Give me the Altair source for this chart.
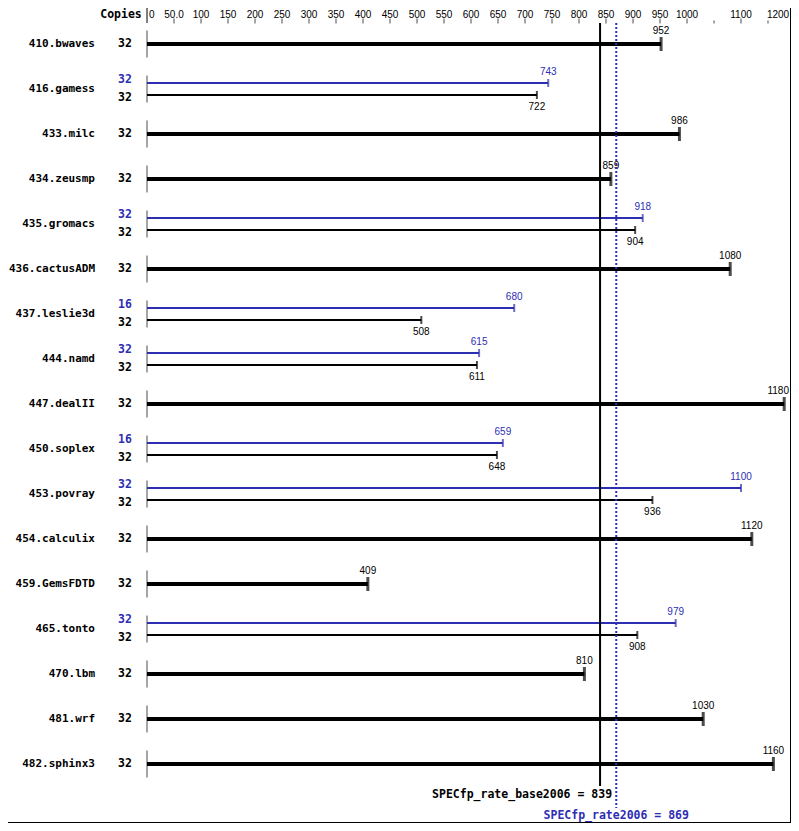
import altair as alt
import pandas as pd

names = ["410.bwaves", "416.gamess", "433.milc", "434.zeusmp", "435.gromacs",
         "436.cactusADM", "437.leslie3d", "444.namd", "447.dealII", "450.soplex",
         "453.povray", "454.calculix", "459.GemsFDTD", "465.tonto", "470.lbm",
         "481.wrf", "482.sphinx3"]
base_values = [952, 722, 986, 859, 904, 1080, 508, 611, 1180, 648, 936, 1120, 409, 908, 810, 1030, 1160]
peak_values = [None, 743, None, None, 918, None, 680, 615, None, 659, 1100, None, None, 979, None, None, None]
base_copies = [32] * 17
peak_copies = [None, 32, None, None, 32, None, 16, 32, None, 16, 32, None, None, 32, None, None, None]
axis_values = [0, 50, 100, 150, 200, 250, 300, 350, 400, 450, 500, 550, 600, 650, 700,
               750, 800, 850, 900, 950, 1000, 1100, 1200]
axis_labels = ["0", "50.0", "100", "150", "200", "250", "300", "350", "400", "450", "500",
               "550", "600", "650", "700", "750", "800", "850", "900", "950", "1000", "1100", "1200"]
minor_ticks = [1050, 1150]
base_score = 839
peak_score = 869

BLUE = "#2e2eb3"
MONO = "DejaVu Sans Mono"
SANS = "Liberation Sans"
SUB = 6 / 45.0
TXT = 9 / 45.0

W, H = 783, 815       # plot = page minus the 8px margin


def P(v):
    """page pixel -> plot pixel"""
    return v - 8


bars, lefts = [], []
for i, n in enumerate(names):
    lefts.append({"pos": i, "text": n, "kind": "name"})
    if peak_values[i] is None:
        bars.append({"pos": i, "value": base_values[i], "kind": "single", "label": str(base_values[i])})
        lefts.append({"pos": i, "text": str(base_copies[i]), "kind": "base"})
    else:
        bars.append({"pos": i - SUB, "value": peak_values[i], "kind": "peak", "label": str(peak_values[i])})
        bars.append({"pos": i + SUB, "value": base_values[i], "kind": "base", "label": str(base_values[i])})
        lefts.append({"pos": i - TXT, "text": str(peak_copies[i]), "kind": "peak"})
        lefts.append({"pos": i + TXT, "text": str(base_copies[i]), "kind": "base"})
bars = pd.DataFrame(bars)
bars["zero"] = 0
lefts = pd.DataFrame(lefts)
rows = pd.DataFrame({"pos": list(range(len(names))), "zero": 0})
axis_df = pd.DataFrame({"v": axis_values, "t": axis_labels})
minor_df = pd.DataFrame({"v": minor_ticks})

# x: value 0 at page 147, 0.54 px per unit; y: row 0 at page 44, 45 px per row
xs = alt.Scale(domain=[(8 - 147) / 0.54, (8 + W - 147) / 0.54], nice=False, zero=False)
ys = alt.Scale(domain=[(8 - 44) / 45.0, (8 + H - 44) / 45.0], nice=False, zero=False, reverse=True)


def X(f):
    return alt.X(f, type="quantitative", scale=xs, axis=None)


def Y(f):
    return alt.Y(f, type="quantitative", scale=ys, axis=None)


col = alt.Color("kind:N", scale=alt.Scale(domain=["single", "peak", "base"],
                                          range=["black", BLUE, "black"]), legend=None)

base_chart = alt.Chart(bars)
single = base_chart.transform_filter("datum.kind == 'single'")
pair = base_chart.transform_filter("datum.kind != 'single'")
one = alt.Chart(rows).transform_filter("datum.pos == 0")

AX_LABEL_Y = P(14.5)
AX_TOP = P(23)

layers = [
    # row axis segments
    alt.Chart(rows).mark_tick(orient="vertical", size=27, thickness=1, color="black").encode(x=X("zero"), y=Y("pos")),
    single.mark_rule(strokeWidth=4, color="black").encode(x=X("zero"), x2="value", y=Y("pos")),
    pair.mark_rule(strokeWidth=2).encode(x=X("zero"), x2="value", y=Y("pos"), color=col),
    single.mark_tick(orient="vertical", size=14, thickness=3, color="black").encode(x=X("value"), y=Y("pos")),
    pair.mark_tick(orient="vertical", size=8, thickness=2).encode(x=X("value"), y=Y("pos"), color=col),
    single.transform_filter("datum.value < 1170").mark_text(font=SANS, fontSize=10, dy=-13, color="black")
    .encode(x=X("value"), y=Y("pos"), text="label"),
    single.transform_filter("datum.value >= 1170").mark_text(font=SANS, fontSize=10, dy=-13, dx=-6, color="black")
    .encode(x=X("value"), y=Y("pos"), text="label"),
    base_chart.transform_filter("datum.kind == 'peak'").mark_text(font=SANS, fontSize=10, dy=-11, color=BLUE)
    .encode(x=X("value"), y=Y("pos"), text="label"),
    base_chart.transform_filter("datum.kind == 'base'").mark_text(font=SANS, fontSize=10, dy=12, color="black")
    .encode(x=X("value"), y=Y("pos"), text="label"),
    # left labels
    alt.Chart(lefts).transform_filter("datum.kind == 'name'")
    .mark_text(font=MONO, fontWeight="bold", fontSize=11, align="right", color="black")
    .encode(x=alt.value(P(95)), y=Y("pos"), text="text"),
    alt.Chart(lefts).transform_filter("datum.kind != 'name'")
    .mark_text(font=MONO, fontWeight="bold", fontSize=11.5, align="center")
    .encode(x=alt.value(P(125)), y=Y("pos"), text="text", color=col),
    # header
    one.mark_text(font=MONO, fontWeight="bold", fontSize=11.5, text="Copies", color="black")
    .encode(x=alt.value(P(121)), y=alt.value(AX_LABEL_Y)),
    one.mark_rule(color="black", strokeWidth=1).encode(x=X("zero"), y=alt.value(0), y2=alt.value(AX_TOP)),
    # top axis
    alt.Chart(axis_df).transform_filter("datum.v > 0").mark_tick(orient="vertical", size=5, thickness=1, color="black")
    .encode(x=X("v"), y=alt.value(P(21))),
    alt.Chart(minor_df).mark_tick(orient="vertical", size=3, thickness=1, color="black")
    .encode(x=X("v"), y=alt.value(P(22))),
    alt.Chart(axis_df).transform_filter("datum.v > 0 && datum.v < 1200")
    .mark_text(font=SANS, fontSize=10, color="black").encode(x=X("v"), y=alt.value(AX_LABEL_Y), text="t"),
    alt.Chart(axis_df).transform_filter("datum.v == 0")
    .mark_text(font=SANS, fontSize=10, color="black", align="left", dx=2)
    .encode(x=X("v"), y=alt.value(AX_LABEL_Y), text="t"),
    alt.Chart(axis_df).transform_filter("datum.v == 1200")
    .mark_text(font=SANS, fontSize=10, color="black", dx=-17)
    .encode(x=X("v"), y=alt.value(AX_LABEL_Y), text="t"),
    # score lines
    one.mark_rule(color="black", strokeWidth=2)
    .encode(x=alt.X(datum=base_score, scale=xs, axis=None), y=alt.value(AX_TOP), y2=alt.value(P(786))),
    one.mark_rule(color=BLUE, strokeWidth=2, strokeDash=[2, 2])
    .encode(x=alt.X(datum=peak_score, scale=xs, axis=None), y=alt.value(AX_TOP), y2=alt.value(P(808))),
    one.mark_text(font=MONO, fontWeight="bold", fontSize=11.5, align="right", dx=12, color="black",
                  text=f"SPECfp_rate_base2006 = {base_score}")
    .encode(x=alt.X(datum=base_score, scale=xs, axis=None), y=alt.value(P(795))),
    one.mark_text(font=MONO, fontWeight="bold", fontSize=11.5, align="center", color=BLUE,
                  text=f"SPECfp_rate2006 = {peak_score}")
    .encode(x=alt.X(datum=peak_score, scale=xs, axis=None), y=alt.value(P(816))),
    # frame (right and bottom edges)
    one.mark_rule(color="black", strokeWidth=1).encode(x=alt.value(W - 0.5), y=alt.value(0), y2=alt.value(H)),
    one.mark_rule(color="black", strokeWidth=1).encode(x=alt.value(0), x2=alt.value(W), y=alt.value(H - 0.5)),
]

chart = alt.layer(*layers).properties(
    width=W, height=H,
    autosize=alt.AutoSizeParams(type="none"),
    padding=0,
    background="white",
).configure_view(stroke=None)

chart.save("out.html", embed_options={"renderer": "svg", "actions": False})
